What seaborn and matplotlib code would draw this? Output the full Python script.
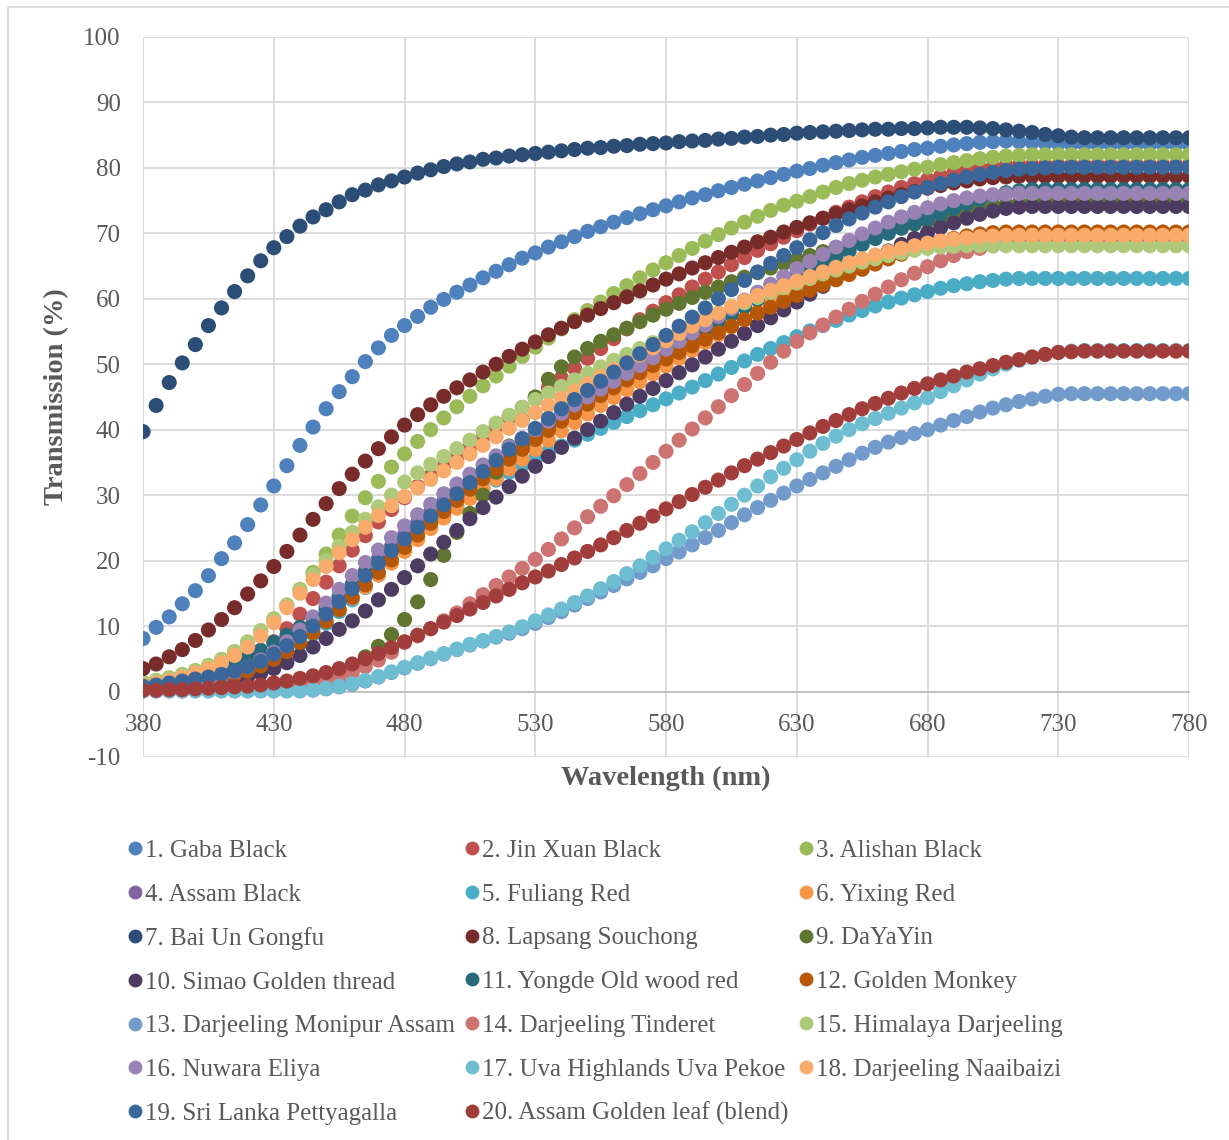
import pandas as pd
import numpy as np
import matplotlib.pyplot as plt
import seaborn as sns
from matplotlib.lines import Line2D
from matplotlib.patches import Rectangle

# wavelengths sampled every 5 nm
wavelength = list(range(380, 781, 5))

tea_names = [
    '1. Gaba Black', '2. Jin Xuan Black', '3. Alishan Black',
    '4. Assam Black', '5. Fuliang Red', '6. Yixing Red',
    '7. Bai Un Gongfu', '8. Lapsang Souchong', '9. DaYaYin',
    '10. Simao Golden thread', '11. Yongde Old wood red', '12. Golden Monkey',
    '13. Darjeeling Monipur Assam', '14. Darjeeling Tinderet', '15. Himalaya Darjeeling',
    '16. Nuwara Eliya', '17. Uva Highlands Uva Pekoe', '18. Darjeeling Naaibaizi',
    '19. Sri Lanka Pettyagalla', '20. Assam Golden leaf (blend)',
]

tea_colors = [
    '#4F81BD', '#C0504D', '#9BBB59', '#8064A2', '#4BACC6', '#F79646',
    '#2C4D75', '#772C2A', '#5F7530', '#4D3B62', '#276A7C', '#B65708',
    '#729ACA', '#CD7371', '#AFC97A', '#9983B5', '#6FBDD1', '#F9AB6B',
    '#3A6699', '#A13E3B',
]

# transmission (%) per tea, 380..780 nm
gaba_black = [
    8.1, 9.8, 11.4, 13.4, 15.4, 17.7, 20.3, 22.7, 25.5, 28.5,
    31.4, 34.5, 37.6, 40.4, 43.2, 45.8, 48.1, 50.4, 52.5, 54.4,
    55.9, 57.3, 58.7, 59.9, 61.0, 62.1, 63.2, 64.2, 65.2, 66.2,
    67.0, 67.9, 68.7, 69.5, 70.3, 71.0, 71.7, 72.4, 73.0, 73.6,
    74.2, 74.8, 75.4, 75.9, 76.5, 77.0, 77.5, 78.0, 78.5, 79.0,
    79.5, 79.9, 80.4, 80.8, 81.2, 81.6, 81.9, 82.2, 82.5, 82.8,
    83.0, 83.3, 83.5, 83.7, 83.9, 84.0, 84.1, 84.0, 83.9, 83.8,
    83.7, 83.6, 83.6, 83.6, 83.6, 83.6, 83.6, 83.6, 83.6, 83.6, 83.6,
]
jin_xuan_black = [
    0.3, 0.4, 0.6, 0.8, 1.1, 1.5, 2.2, 3.1, 4.3, 5.8,
    7.6, 9.6, 11.8, 14.2, 16.7, 19.2, 21.6, 23.8, 25.9, 27.8,
    29.6, 31.3, 32.9, 34.4, 35.9, 37.4, 38.9, 40.4, 41.9, 43.4,
    44.9, 46.4, 47.9, 49.4, 50.9, 52.4, 53.9, 55.4, 56.8, 58.1,
    59.4, 60.6, 61.8, 63.0, 64.1, 65.2, 66.3, 67.4, 68.4, 69.4,
    70.4, 71.4, 72.3, 73.2, 74.0, 74.8, 75.6, 76.3, 77.0, 77.6,
    78.2, 78.7, 79.2, 79.6, 79.9, 80.1, 80.3, 80.4, 80.4, 80.4,
    80.4, 80.4, 80.4, 80.4, 80.4, 80.4, 80.4, 80.4, 80.4, 80.4, 80.4,
]
alishan_black = [
    1.4, 1.7, 2.1, 2.6, 3.2, 4.0, 4.9, 6.1, 7.5, 9.2,
    11.1, 13.2, 15.6, 18.2, 21.0, 23.9, 26.8, 29.6, 32.1, 34.3,
    36.3, 38.2, 40.0, 41.8, 43.5, 45.1, 46.7, 48.2, 49.7, 51.2,
    52.6, 54.0, 55.4, 56.8, 58.2, 59.5, 60.8, 62.0, 63.2, 64.4,
    65.5, 66.6, 67.7, 68.8, 69.8, 70.8, 71.7, 72.6, 73.5, 74.3,
    74.9, 75.6, 76.3, 77.0, 77.6, 78.1, 78.6, 79.0, 79.4, 79.8,
    80.1, 80.5, 80.8, 81.1, 81.4, 81.6, 81.8, 81.9, 82.0, 82.0,
    82.0, 82.0, 82.0, 82.0, 82.0, 82.0, 82.0, 82.0, 82.0, 82.0, 82.0,
]
assam_black = [
    0.5, 0.7, 0.9, 1.2, 1.5, 1.9, 2.4, 3.0, 3.7, 4.6,
    5.7, 7.1, 8.7, 10.5, 12.4, 14.4, 16.4, 18.4, 20.3, 22.2,
    24.0, 25.8, 27.5, 29.1, 30.7, 32.2, 33.7, 35.2, 36.6, 38.0,
    39.3, 40.6, 41.9, 43.2, 44.4, 45.6, 46.8, 48.0, 49.2, 50.4,
    51.6, 52.8, 54.0, 55.2, 56.4, 57.6, 58.8, 60.0, 61.2, 62.4,
    63.5, 64.6, 65.7, 66.8, 67.8, 68.8, 69.7, 70.6, 71.4, 72.2,
    72.9, 73.6, 74.2, 74.8, 75.3, 75.7, 76.0, 76.2, 76.3, 76.3,
    76.3, 76.3, 76.3, 76.3, 76.3, 76.3, 76.3, 76.3, 76.3, 76.3, 76.3,
]
fuliang_red = [
    0.5, 0.6, 0.8, 1.0, 1.3, 1.6, 2.0, 2.5, 3.1, 3.9,
    4.9, 6.0, 7.3, 8.8, 10.4, 12.2, 14.0, 15.9, 17.8, 19.7,
    21.6, 23.4, 25.1, 26.7, 28.2, 29.6, 31.0, 32.3, 33.5, 34.6,
    35.6, 36.6, 37.5, 38.4, 39.3, 40.2, 41.1, 42.0, 42.9, 43.8,
    44.7, 45.6, 46.5, 47.5, 48.5, 49.5, 50.5, 51.5, 52.4, 53.3,
    54.2, 55.1, 55.9, 56.7, 57.5, 58.2, 58.9, 59.5, 60.1, 60.6,
    61.1, 61.6, 62.0, 62.3, 62.6, 62.8, 63.0, 63.1, 63.1, 63.1,
    63.1, 63.1, 63.1, 63.1, 63.1, 63.1, 63.1, 63.1, 63.1, 63.1, 63.1,
]
yixing_red = [
    0.6, 0.8, 1.0, 1.3, 1.6, 2.0, 2.5, 3.1, 3.8, 4.7,
    5.8, 7.0, 8.3, 9.6, 11.0, 12.6, 14.3, 16.0, 17.8, 19.6,
    21.4, 23.2, 24.9, 26.5, 28.0, 29.5, 31.0, 32.5, 34.0, 35.5,
    37.0, 38.4, 39.8, 41.1, 42.4, 43.7, 44.9, 46.1, 47.3, 48.5,
    49.7, 50.9, 52.1, 53.3, 54.5, 55.7, 56.9, 58.0, 59.1, 60.2,
    61.2, 62.2, 63.1, 64.0, 64.8, 65.6, 66.3, 67.0, 67.6, 68.1,
    68.5, 68.9, 69.2, 69.4, 69.5, 69.6, 69.6, 69.6, 69.6, 69.6,
    69.6, 69.6, 69.6, 69.6, 69.6, 69.6, 69.6, 69.6, 69.6, 69.6, 69.6,
]
bai_un_gongfu = [
    39.7, 43.7, 47.2, 50.2, 53.0, 55.9, 58.6, 61.1, 63.5, 65.8,
    67.8, 69.5, 71.1, 72.5, 73.6, 74.8, 75.9, 76.6, 77.4, 78.0,
    78.6, 79.2, 79.7, 80.2, 80.6, 80.9, 81.3, 81.5, 81.8, 82.0,
    82.2, 82.4, 82.6, 82.8, 83.0, 83.1, 83.3, 83.4, 83.6, 83.7,
    83.8, 84.0, 84.1, 84.2, 84.4, 84.5, 84.7, 84.8, 85.0, 85.1,
    85.3, 85.4, 85.5, 85.6, 85.7, 85.8, 85.9, 85.9, 86.0, 86.0,
    86.1, 86.2, 86.2, 86.2, 86.1, 86.0, 85.8, 85.6, 85.4, 85.1,
    84.9, 84.7, 84.6, 84.6, 84.6, 84.6, 84.6, 84.6, 84.6, 84.6, 84.6,
]
lapsang_souchong = [
    3.5, 4.2, 5.3, 6.4, 7.8, 9.4, 11.0, 12.8, 14.9, 16.9,
    19.1, 21.4, 23.9, 26.3, 28.7, 31.0, 33.2, 35.2, 37.1, 38.9,
    40.7, 42.3, 43.8, 45.1, 46.4, 47.6, 48.8, 50.0, 51.2, 52.3,
    53.4, 54.5, 55.5, 56.5, 57.5, 58.5, 59.4, 60.3, 61.2, 62.1,
    63.0, 63.8, 64.7, 65.5, 66.3, 67.1, 67.9, 68.7, 69.4, 70.2,
    70.9, 71.6, 72.3, 73.0, 73.6, 74.2, 74.8, 75.4, 75.9, 76.4,
    76.9, 77.3, 77.7, 78.0, 78.3, 78.5, 78.6, 78.7, 78.7, 78.7,
    78.7, 78.7, 78.7, 78.7, 78.7, 78.7, 78.7, 78.7, 78.7, 78.7, 78.7,
]
dayayin = [
    0.2, 0.2, 0.2, 0.3, 0.3, 0.3, 0.4, 0.4, 0.5, 0.6,
    0.7, 0.8, 1.0, 1.3, 1.8, 2.6, 3.8, 5.3, 6.9, 8.7,
    11.0, 13.7, 17.1, 20.8, 24.3, 27.2, 30.0, 33.5, 37.5, 41.5,
    45.0, 47.7, 49.6, 51.1, 52.4, 53.5, 54.5, 55.5, 56.5, 57.5,
    58.4, 59.3, 60.2, 61.0, 61.8, 62.6, 63.3, 64.0, 64.7, 65.4,
    66.0, 66.6, 67.2, 67.8, 68.4, 69.0, 69.6, 70.2, 70.8, 71.4,
    71.9, 72.4, 72.9, 73.4, 73.8, 74.1, 74.4, 74.6, 74.8, 74.9,
    74.9, 74.9, 74.9, 74.9, 74.9, 74.9, 74.9, 74.9, 74.9, 74.9, 74.9,
]
simao_golden_thread = [
    0.3, 0.4, 0.5, 0.6, 0.8, 1.0, 1.3, 1.7, 2.2, 2.8,
    3.5, 4.4, 5.5, 6.8, 8.1, 9.5, 10.8, 12.3, 14.0, 15.6,
    17.4, 19.2, 21.0, 22.8, 24.6, 26.4, 28.1, 29.7, 31.3, 32.9,
    34.4, 35.9, 37.3, 38.7, 40.0, 41.3, 42.6, 43.9, 45.1, 46.3,
    47.5, 48.7, 49.9, 51.1, 52.3, 53.5, 54.7, 55.9, 57.1, 58.3,
    59.5, 60.7, 61.9, 63.0, 64.1, 65.2, 66.3, 67.3, 68.3, 69.2,
    70.1, 70.9, 71.6, 72.3, 72.9, 73.4, 73.8, 74.0, 74.1, 74.1,
    74.1, 74.1, 74.1, 74.1, 74.1, 74.1, 74.1, 74.1, 74.1, 74.1, 74.1,
]
yongde_old_wood_red = [
    0.6, 0.9, 1.2, 1.6, 2.1, 2.7, 3.4, 4.3, 5.2, 6.3,
    7.5, 8.6, 9.8, 11.2, 12.8, 14.5, 16.3, 18.1, 19.9, 21.7,
    23.4, 25.1, 26.7, 28.3, 29.9, 31.5, 33.0, 34.5, 36.0, 37.4,
    38.8, 40.2, 41.5, 42.8, 44.1, 45.4, 46.7, 48.0, 49.3, 50.6,
    51.9, 53.1, 54.3, 55.5, 56.6, 57.7, 58.8, 59.9, 61.0, 62.1,
    63.2, 64.3, 65.3, 66.3, 67.3, 68.3, 69.2, 70.0, 70.8, 71.5,
    72.2, 73.0, 73.8, 74.5, 75.2, 75.8, 76.2, 76.5, 76.7, 76.7,
    76.7, 76.7, 76.7, 76.7, 76.7, 76.7, 76.7, 76.7, 76.7, 76.7, 76.7,
]
golden_monkey = [
    0.5, 0.6, 0.8, 1.0, 1.3, 1.6, 2.0, 2.5, 3.1, 3.9,
    4.9, 6.1, 7.5, 9.0, 10.7, 12.5, 14.4, 16.3, 18.2, 20.1,
    22.0, 23.9, 25.7, 27.5, 29.2, 30.9, 32.5, 34.0, 35.5, 37.0,
    38.5, 39.9, 41.3, 42.6, 43.9, 45.2, 46.4, 47.6, 48.7, 49.8,
    50.8, 51.8, 52.8, 53.8, 54.8, 55.8, 56.8, 57.8, 58.7, 59.6,
    60.5, 61.3, 62.1, 62.9, 63.7, 64.5, 65.3, 66.1, 66.8, 67.5,
    68.1, 68.7, 69.2, 69.6, 69.9, 70.1, 70.2, 70.2, 70.2, 70.2,
    70.2, 70.2, 70.2, 70.2, 70.2, 70.2, 70.2, 70.2, 70.2, 70.2, 70.2,
]
darjeeling_monipur_assam = [
    0.1, 0.1, 0.1, 0.1, 0.1, 0.1, 0.1, 0.1, 0.1, 0.1,
    0.1, 0.1, 0.1, 0.2, 0.4, 0.7, 1.1, 1.6, 2.2, 2.9,
    3.6, 4.3, 5.0, 5.7, 6.4, 7.1, 7.7, 8.3, 8.9, 9.6,
    10.4, 11.3, 12.2, 13.2, 14.2, 15.2, 16.2, 17.2, 18.2, 19.2,
    20.3, 21.3, 22.4, 23.5, 24.6, 25.8, 27.0, 28.1, 29.2, 30.3,
    31.4, 32.4, 33.4, 34.4, 35.4, 36.4, 37.3, 38.1, 38.8, 39.4,
    40.0, 40.7, 41.4, 42.0, 42.7, 43.3, 43.8, 44.3, 44.7, 45.1,
    45.4, 45.5, 45.5, 45.5, 45.5, 45.5, 45.5, 45.5, 45.5, 45.5, 45.5,
]
darjeeling_tinderet = [
    0.1, 0.1, 0.1, 0.1, 0.2, 0.2, 0.2, 0.3, 0.3, 0.4,
    0.5, 0.7, 1.0, 1.3, 1.7, 2.2, 2.9, 3.8, 4.8, 6.0,
    7.5, 8.5, 9.6, 10.8, 12.0, 13.4, 14.8, 16.2, 17.5, 18.8,
    20.2, 21.7, 23.3, 25.0, 26.7, 28.3, 29.9, 31.6, 33.3, 35.0,
    36.7, 38.4, 40.1, 41.8, 43.5, 45.2, 46.9, 48.6, 50.3, 52.0,
    53.5, 54.8, 56.0, 57.2, 58.4, 59.6, 60.7, 61.8, 62.9, 63.9,
    64.9, 65.8, 66.6, 67.2, 67.7, 68.1, 68.3, 68.4, 68.5, 68.5,
    68.5, 68.5, 68.5, 68.5, 68.5, 68.5, 68.5, 68.5, 68.5, 68.5, 68.5,
]
himalaya_darjeeling = [
    1.2, 1.6, 2.0, 2.5, 3.1, 3.9, 4.9, 6.1, 7.6, 9.3,
    11.0, 13.2, 15.5, 17.8, 20.0, 22.2, 24.3, 26.3, 28.2, 30.0,
    32.0, 33.4, 34.7, 35.9, 37.1, 38.4, 39.7, 41.0, 42.2, 43.4,
    44.6, 45.6, 46.6, 47.6, 48.6, 49.6, 50.6, 51.5, 52.4, 53.3,
    54.2, 55.1, 56.0, 56.9, 57.8, 58.6, 59.4, 60.2, 61.0, 61.7,
    62.4, 63.1, 63.8, 64.4, 65.0, 65.6, 66.1, 66.6, 67.0, 67.4,
    67.7, 67.9, 68.0, 68.1, 68.1, 68.1, 68.1, 68.1, 68.1, 68.1,
    68.1, 68.1, 68.1, 68.1, 68.1, 68.1, 68.1, 68.1, 68.1, 68.1, 68.1,
]
nuwara_eliya = [
    0.5, 0.7, 0.9, 1.2, 1.5, 1.9, 2.4, 3.0, 3.8, 4.8,
    6.0, 7.6, 9.4, 11.4, 13.5, 15.6, 17.7, 19.7, 21.6, 23.5,
    25.3, 27.0, 28.6, 30.2, 31.7, 33.2, 34.6, 36.0, 37.4, 38.7,
    40.0, 41.3, 42.5, 43.8, 45.0, 46.2, 47.4, 48.6, 49.8, 51.0,
    52.3, 53.5, 54.8, 56.0, 57.3, 58.5, 59.8, 61.0, 62.2, 63.4,
    64.6, 65.7, 66.8, 67.9, 68.9, 69.9, 70.8, 71.7, 72.5, 73.2,
    73.9, 74.5, 75.0, 75.4, 75.7, 75.9, 76.0, 76.1, 76.1, 76.1,
    76.1, 76.1, 76.1, 76.1, 76.1, 76.1, 76.1, 76.1, 76.1, 76.1, 76.1,
]
uva_highlands_uva_pekoe = [
    0.1, 0.1, 0.1, 0.1, 0.1, 0.1, 0.1, 0.1, 0.1, 0.1,
    0.1, 0.1, 0.1, 0.3, 0.5, 0.8, 1.2, 1.7, 2.3, 3.0,
    3.7, 4.4, 5.1, 5.8, 6.5, 7.2, 7.8, 8.4, 9.1, 9.9,
    10.8, 11.7, 12.6, 13.6, 14.6, 15.7, 16.8, 18.0, 19.2, 20.5,
    21.8, 23.1, 24.4, 25.8, 27.2, 28.6, 30.0, 31.4, 32.8, 34.1,
    35.4, 36.7, 37.9, 39.0, 40.0, 40.9, 41.7, 42.5, 43.3, 44.1,
    44.9, 45.8, 46.7, 47.6, 48.5, 49.3, 50.0, 50.6, 51.1, 51.5,
    51.8, 52.0, 52.1, 52.1, 52.1, 52.1, 52.1, 52.1, 52.1, 52.1, 52.1,
]
darjeeling_naaibaizi = [
    1.0, 1.3, 1.7, 2.2, 2.8, 3.5, 4.4, 5.5, 6.8, 8.5,
    10.5, 12.8, 15.0, 17.1, 19.1, 21.2, 23.2, 25.1, 26.9, 28.4,
    29.8, 31.1, 32.4, 33.7, 35.0, 36.3, 37.6, 38.9, 40.2, 41.4,
    42.6, 43.7, 44.8, 45.9, 47.0, 48.1, 49.2, 50.3, 51.4, 52.5,
    53.6, 54.7, 55.8, 56.8, 57.8, 58.8, 59.7, 60.5, 61.3, 62.0,
    62.7, 63.4, 64.1, 64.8, 65.5, 66.1, 66.7, 67.2, 67.7, 68.1,
    68.5, 68.8, 69.1, 69.3, 69.5, 69.6, 69.7, 69.7, 69.7, 69.7,
    69.7, 69.7, 69.7, 69.7, 69.7, 69.7, 69.7, 69.7, 69.7, 69.7, 69.7,
]
sri_lanka_pettyagalla = [
    0.8, 1.0, 1.3, 1.6, 1.9, 2.2, 2.6, 3.1, 3.8, 4.6,
    5.7, 7.0, 8.4, 10.0, 11.8, 13.7, 15.7, 17.7, 19.6, 21.5,
    23.3, 25.1, 26.8, 28.5, 30.2, 31.9, 33.6, 35.3, 37.0, 38.6,
    40.2, 41.7, 43.2, 44.6, 46.0, 47.4, 48.8, 50.2, 51.6, 53.0,
    54.4, 55.8, 57.2, 58.6, 60.0, 61.4, 62.8, 64.1, 65.4, 66.6,
    67.8, 69.0, 70.1, 71.2, 72.2, 73.1, 74.0, 74.8, 75.6, 76.3,
    77.0, 77.6, 78.1, 78.6, 79.0, 79.3, 79.6, 79.8, 79.9, 80.0,
    80.1, 80.1, 80.1, 80.1, 80.1, 80.1, 80.1, 80.1, 80.1, 80.1, 80.1,
]
assam_golden_leaf = [
    0.2, 0.2, 0.3, 0.3, 0.4, 0.5, 0.6, 0.7, 0.8, 1.0,
    1.3, 1.6, 2.0, 2.4, 2.9, 3.5, 4.2, 5.0, 5.8, 6.7,
    7.6, 8.6, 9.6, 10.6, 11.6, 12.6, 13.6, 14.6, 15.6, 16.6,
    17.5, 18.4, 19.4, 20.4, 21.4, 22.4, 23.5, 24.6, 25.7, 26.8,
    27.9, 29.0, 30.1, 31.2, 32.3, 33.4, 34.5, 35.5, 36.5, 37.5,
    38.5, 39.5, 40.5, 41.4, 42.3, 43.2, 44.0, 44.8, 45.6, 46.3,
    47.0, 47.6, 48.2, 48.8, 49.3, 49.8, 50.3, 50.7, 51.1, 51.5,
    51.8, 51.9, 52.0, 52.0, 52.0, 52.0, 52.0, 52.0, 52.0, 52.0, 52.0,
]

all_series = [
    gaba_black, jin_xuan_black, alishan_black, assam_black, fuliang_red,
    yixing_red, bai_un_gongfu, lapsang_souchong, dayayin, simao_golden_thread,
    yongde_old_wood_red, golden_monkey, darjeeling_monipur_assam,
    darjeeling_tinderet, himalaya_darjeeling, nuwara_eliya,
    uva_highlands_uva_pekoe, darjeeling_naaibaizi, sri_lanka_pettyagalla,
    assam_golden_leaf,
]

# long table, series in order so later teas are drawn on top
frames = []
for name, vals in zip(tea_names, all_series):
    frames.append(pd.DataFrame({'Wavelength': wavelength, 'Transmission': vals, 'Tea': name}))
df = pd.concat(frames, ignore_index=True)

sns.set_style('white')
plt.rcParams['font.family'] = ['Liberation Serif', 'DejaVu Serif']
plt.rcParams['axes.unicode_minus'] = False
text_col = '#595959'
grid_col = '#D9D9D9'

fig = plt.figure(figsize=(12.29, 11.40), dpi=100)
ax = fig.add_axes([0.1164, 0.3360, 0.8511, 0.6316])

sns.scatterplot(data=df, x='Wavelength', y='Transmission', hue='Tea',
                palette=dict(zip(tea_names, tea_colors)), s=118, linewidth=0,
                legend=False, ax=ax, zorder=3)

ax.set_xlim(380, 780)
ax.set_ylim(-10, 100)
ax.set_xticks(range(380, 781, 50))
ax.set_yticks(range(-10, 101, 10))
ax.grid(True, color=grid_col, linewidth=1.3)
ax.set_axisbelow(True)
for side in ['top', 'right', 'left']:
    ax.spines[side].set_visible(False)
ax.spines['bottom'].set_position(('data', 0))
ax.spines['bottom'].set_color('#BFBFBF')
ax.spines['bottom'].set_linewidth(1.3)
ax.tick_params(axis='x', length=0, pad=16, labelsize=18, labelcolor=text_col)
ax.tick_params(axis='y', length=0, pad=16, labelsize=18, labelcolor=text_col)

ax.set_xlabel('Wavelength (nm)', fontsize=20.5, fontweight='bold', color=text_col)
ax.set_ylabel('Transmission (%)', fontsize=20.5, fontweight='bold', color=text_col)
ax.xaxis.set_label_coords(0.5, -0.012)
ax.yaxis.set_label_coords(-0.071, 0.5)

# legend in Excel's row-major order, 3 columns
handles = [Line2D([], [], linestyle='none', marker='o', markersize=10,
                  markerfacecolor=c, markeredgewidth=0) for c in tea_colors]
order = [0, 3, 6, 9, 12, 15, 18, 1, 4, 7, 10, 13, 16, 19, 2, 5, 8, 11, 14, 17]
leg = fig.legend([handles[i] for i in order], [tea_names[i] for i in order],
                 ncol=3, loc='upper left', bbox_to_anchor=(0.104, 0.2638),
                 frameon=False, fontsize=18, handlelength=0.55,
                 handletextpad=0.12, columnspacing=0.42, labelspacing=0.85,
                 borderpad=0, borderaxespad=0)
for t in leg.get_texts():
    t.set_color(text_col)

# thin outer chart border
fig.add_artist(Rectangle((0.0068, -0.01), 1.0, 0.9939 + 0.01, transform=fig.transFigure,
                         fill=False, edgecolor=grid_col, linewidth=1.3))

fig.savefig('out.png', dpi=100, facecolor='white')
